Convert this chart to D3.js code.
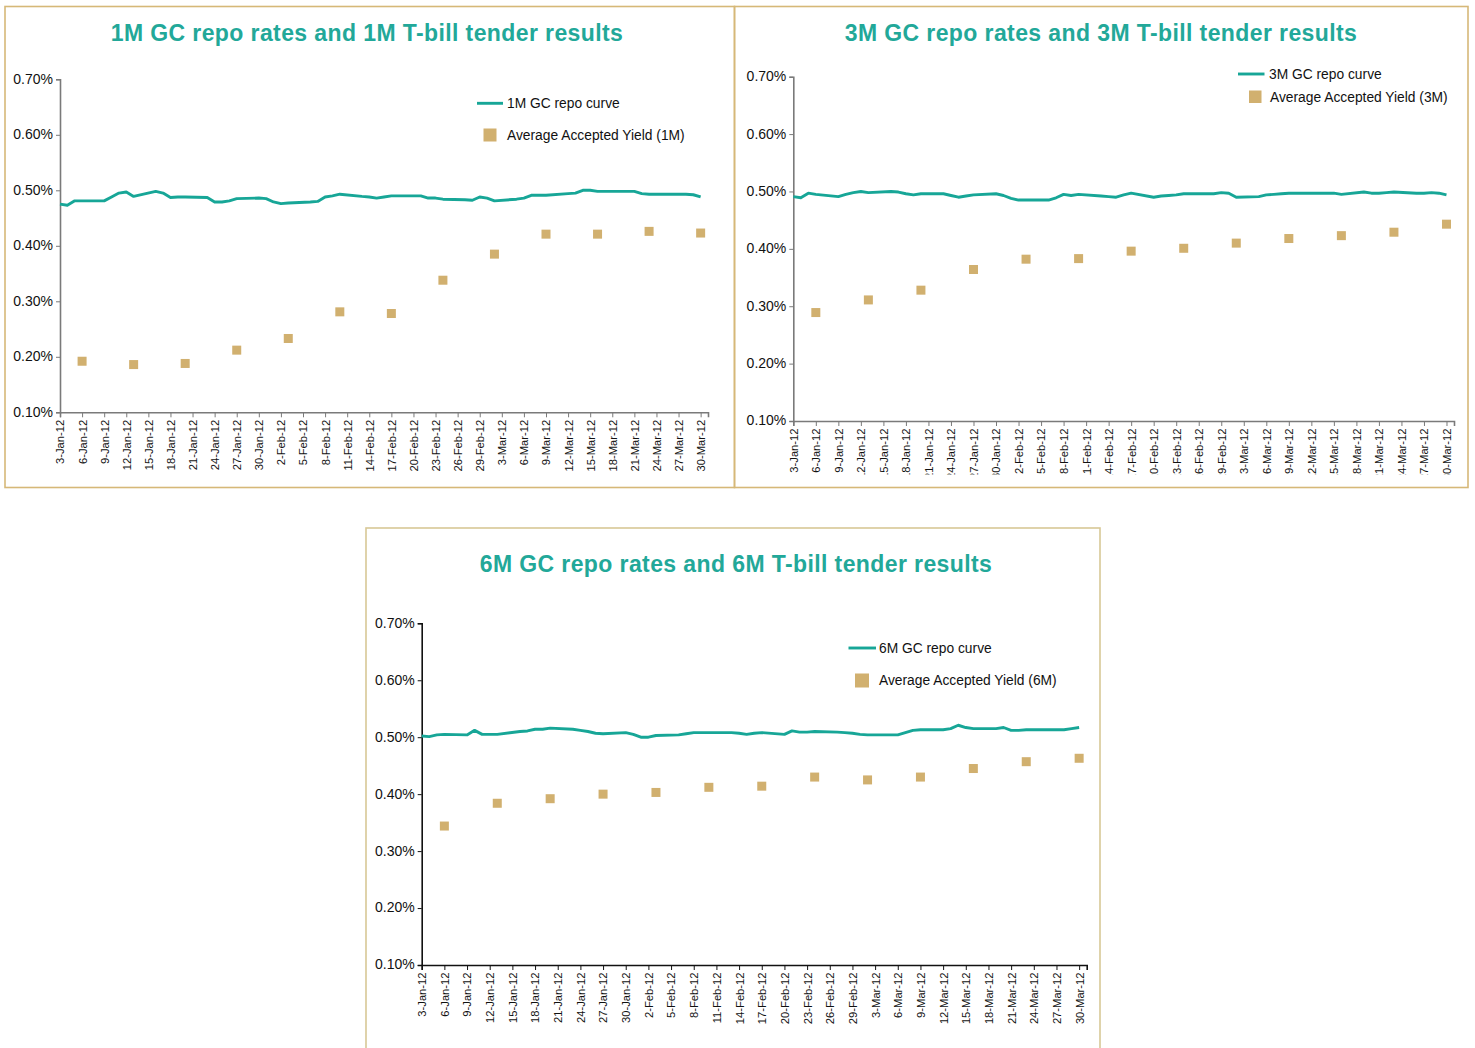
<!DOCTYPE html>
<html><head><meta charset="utf-8">
<script src="https://cdn.jsdelivr.net/npm/d3@7"></script>
<style>
body{margin:0;background:#fff;}
svg{display:block;font-family:"Liberation Sans",Arial,Helvetica,sans-serif;}
</style>
</head><body>
<svg id="chart" width="1475" height="1048"></svg>
<script>
// ---------- DATA ----------
const repoDates = [
  "3-Jan-12","4-Jan-12","5-Jan-12","6-Jan-12","9-Jan-12","10-Jan-12","11-Jan-12","12-Jan-12","13-Jan-12",
  "16-Jan-12","17-Jan-12","18-Jan-12","19-Jan-12","20-Jan-12","23-Jan-12","24-Jan-12","25-Jan-12","26-Jan-12","27-Jan-12",
  "30-Jan-12","31-Jan-12",
  "1-Feb-12","2-Feb-12","3-Feb-12","6-Feb-12","7-Feb-12","8-Feb-12","9-Feb-12","10-Feb-12",
  "13-Feb-12","14-Feb-12","15-Feb-12","16-Feb-12","17-Feb-12","20-Feb-12","21-Feb-12","22-Feb-12","23-Feb-12","24-Feb-12",
  "27-Feb-12","28-Feb-12","29-Feb-12",
  "1-Mar-12","2-Mar-12","5-Mar-12","6-Mar-12","7-Mar-12","8-Mar-12","9-Mar-12",
  "12-Mar-12","13-Mar-12","14-Mar-12","15-Mar-12","16-Mar-12","19-Mar-12","20-Mar-12","21-Mar-12","22-Mar-12","23-Mar-12",
  "26-Mar-12","27-Mar-12","28-Mar-12","29-Mar-12","30-Mar-12"
];
const repo1M = [
  0.475,0.473,0.481,0.481, 0.481,0.488,0.495,0.497,0.489, 0.498,0.495,0.487,0.488,0.488, 0.487,0.479,0.479,0.481,0.485, 0.486,0.485,
  0.479,0.476,0.477, 0.479,0.480,0.488,0.490,0.493, 0.489,0.488,0.486,0.488,0.490, 0.490,0.490,0.486,0.486,0.484, 0.483,0.482,0.488,
  0.486,0.481, 0.484,0.486,0.491,0.491,0.491, 0.494,0.495,0.500,0.500,0.498, 0.498,0.498,0.498,0.494,0.493, 0.493,0.493,0.493,0.492,0.488
];
const repo3M = [
  0.491,0.489,0.497,0.495, 0.491,0.495,0.498,0.500,0.498, 0.500,0.499,0.496,0.494,0.496, 0.496,0.493,0.490,0.492,0.494, 0.496,0.493,
  0.488,0.485,0.485, 0.485,0.489,0.495,0.493,0.495, 0.492,0.491,0.490,0.494,0.497, 0.490,0.492,0.493,0.494,0.496, 0.496,0.496,0.498,
  0.497,0.490, 0.491,0.494,0.495,0.496,0.497, 0.497,0.497,0.497,0.497,0.495, 0.499,0.497,0.497,0.498,0.499, 0.497,0.497,0.498,0.497,0.494
];
const repo6M = [
  0.502,0.501,0.504,0.505, 0.504,0.512,0.505,0.505,0.505, 0.510,0.511,0.514,0.514,0.516, 0.514,0.512,0.510,0.507,0.506, 0.508,0.505,
  0.500,0.500,0.503, 0.504,0.506,0.508,0.508,0.508, 0.508,0.507,0.505,0.507,0.508, 0.505,0.511,0.509,0.509,0.510, 0.509,0.508,0.507,
  0.505,0.504, 0.504,0.504,0.508,0.512,0.513, 0.513,0.515,0.521,0.517,0.515, 0.515,0.517,0.512,0.512,0.513, 0.513,0.513,0.513,0.515,0.517
];
const tenderDates = ["6-Jan-12","13-Jan-12","20-Jan-12","27-Jan-12","3-Feb-12","10-Feb-12","17-Feb-12",
  "24-Feb-12","2-Mar-12","9-Mar-12","16-Mar-12","23-Mar-12","30-Mar-12"];
const tender1M = [0.192,0.186,0.188,0.212,0.233,0.281,0.278,0.338,0.385,0.421,0.421,0.426,0.423];
const tender3M = [0.289,0.311,0.328,0.364,0.382,0.383,0.396,0.401,0.410,0.418,0.423,0.429,0.443];
const tender6M = [0.344,0.384,0.392,0.400,0.403,0.412,0.414,0.430,0.425,0.430,0.445,0.457,0.463];

const xTickLabels = ["3-Jan-12","6-Jan-12","9-Jan-12","12-Jan-12","15-Jan-12","18-Jan-12","21-Jan-12","24-Jan-12",
  "27-Jan-12","30-Jan-12","2-Feb-12","5-Feb-12","8-Feb-12","11-Feb-12","14-Feb-12","17-Feb-12","20-Feb-12",
  "23-Feb-12","26-Feb-12","29-Feb-12","3-Mar-12","6-Mar-12","9-Mar-12","12-Mar-12","15-Mar-12","18-Mar-12",
  "21-Mar-12","24-Mar-12","27-Mar-12","30-Mar-12"];
const xDomain = ["3-Jan-12","31-Mar-12"];
const yTickValues = [0.1,0.2,0.3,0.4,0.5,0.6,0.7];
const yDomain = [0.1,0.7];

const titles = ["1M GC repo rates and 1M T-bill tender results",
                "3M GC repo rates and 3M T-bill tender results",
                "6M GC repo rates and 6M T-bill tender results"];
const lineLegend = ["1M GC repo curve","3M GC repo curve","6M GC repo curve"];
const squareLegend = ["Average Accepted Yield (1M)","Average Accepted Yield (3M)","Average Accepted Yield (6M)"];

// ---------- DRAW ----------
const TEAL = "#17a697", TITLE = "#22a899", TAN = "#d1b06f";
const parse = d3.timeParse("%d-%b-%y");
const svg = d3.select("#chart");

const panels = [
  {i:0, repo:repo1M, tender:tender1M, box:[5,6.5,729.5,481], border:"#d6b878",
   titleX:367, titleY:41, x0:60, x1:708, y0:79.3, y1:412.3, axis:"#7a7a7a",
   legLine:[477,503,103.3], legLineText:[507,108], legSq:[483.5,128.5,13], legSqText:[507,139.5], clip:null},
  {i:1, repo:repo3M, tender:tender3M, box:[734.5,6.5,733.5,481], border:"#d6b878",
   titleX:1101, titleY:41, x0:793.3, x1:1454, y0:76.7, y1:421, axis:"#7a7a7a",
   legLine:[1238,1264.5,74], legLineText:[1269,78.5], legSq:[1249,90.5,12.5], legSqText:[1270,102], clip:474.5},
  {i:2, repo:repo6M, tender:tender6M, box:[366,528,734,560], border:"#d8c896",
   titleX:736, titleY:572, x0:421.7, x1:1086.7, y0:623.3, y1:965, axis:"#111",
   legLine:[848.5,876,648], legLineText:[879,652.5], legSq:[855,673.5,14], legSqText:[879,684.5], clip:null}
];

panels.forEach(p => {
  const g = svg.append("g");
  g.append("rect").attr("x",p.box[0]).attr("y",p.box[1]).attr("width",p.box[2]).attr("height",p.box[3])
    .attr("fill","none").attr("stroke",p.border).attr("stroke-width",1.6);

  g.append("text").attr("x",p.titleX).attr("y",p.titleY).attr("text-anchor","middle")
    .attr("font-weight","bold").attr("font-size",23).attr("letter-spacing",0.4)
    .attr("fill",TITLE).text(titles[p.i]);

  const x = d3.scaleTime().domain(xDomain.map(parse)).range([p.x0,p.x1]);
  const y = d3.scaleLinear().domain(yDomain).range([p.y1,p.y0]);

  // y axis
  const ya = g.append("g").attr("transform",`translate(${p.x0},0)`)
    .call(d3.axisLeft(y).tickValues(yTickValues).tickFormat(d => d3.format(".2f")(d)+"%").tickSizeOuter(0).tickSize(4).tickPadding(3));
  ya.select(".domain").attr("stroke",p.axis).attr("stroke-width",1.6);
  ya.selectAll(".tick line").attr("stroke",p.axis);
  ya.selectAll(".tick text").attr("font-size",14).attr("fill","#111").attr("font-family","'Liberation Sans',Arial,sans-serif").attr("dy","0.28em");

  // x axis
  const xo = g.append("g");
  if (p.clip) {
    const id = "clip"+p.i;
    svg.append("clipPath").attr("id",id).append("rect")
      .attr("x",p.box[0]).attr("y",0).attr("width",p.box[2]).attr("height",p.clip);
    xo.attr("clip-path",`url(#${id})`);
  }
  const xa = xo.append("g").attr("transform",`translate(0,${p.y1})`)
    .call(d3.axisBottom(x).tickValues(xTickLabels.map(parse)).tickFormat(d3.timeFormat("%-d-%b-%y")).tickSizeOuter(0).tickSize(5));
  xa.select(".domain").attr("stroke",p.axis).attr("stroke-width",1.6);
  xa.selectAll(".tick line").attr("stroke",p.axis);
  xa.selectAll(".tick text").attr("font-size",11.2).attr("fill","#111").attr("font-family","'Liberation Sans',Arial,sans-serif")
    .attr("transform","rotate(-90)").attr("text-anchor","end")
    .attr("x",-7.5).attr("y",0).attr("dy","0.35em");

  // repo line
  const pts = repoDates.map((d,k) => ({date:parse(d), v:p.repo[k]}));
  g.append("path").datum(pts)
    .attr("d", d3.line().x(d=>x(d.date)).y(d=>y(d.v)))
    .attr("fill","none").attr("stroke",TEAL).attr("stroke-width",2.9).attr("stroke-linejoin","round");

  // tender squares
  const sq = 9;
  g.selectAll("rect.t").data(tenderDates.map((d,k)=>({date:parse(d), v:p.tender[k]}))).enter()
    .append("rect").attr("class","t")
    .attr("x",d=>x(d.date)-sq/2).attr("y",d=>y(d.v)-sq/2).attr("width",sq).attr("height",sq).attr("fill",TAN);

  // legend
  g.append("line").attr("x1",p.legLine[0]).attr("x2",p.legLine[1]).attr("y1",p.legLine[2]).attr("y2",p.legLine[2])
    .attr("stroke",TEAL).attr("stroke-width",2.9);
  g.append("text").attr("x",p.legLineText[0]).attr("y",p.legLineText[1]).attr("font-size",13.8).attr("fill","#111").text(lineLegend[p.i]);
  g.append("rect").attr("x",p.legSq[0]).attr("y",p.legSq[1]).attr("width",p.legSq[2]).attr("height",p.legSq[2]).attr("fill",TAN);
  g.append("text").attr("x",p.legSqText[0]).attr("y",p.legSqText[1]).attr("font-size",13.8).attr("fill","#111").text(squareLegend[p.i]);
});
</script>
</body></html>
